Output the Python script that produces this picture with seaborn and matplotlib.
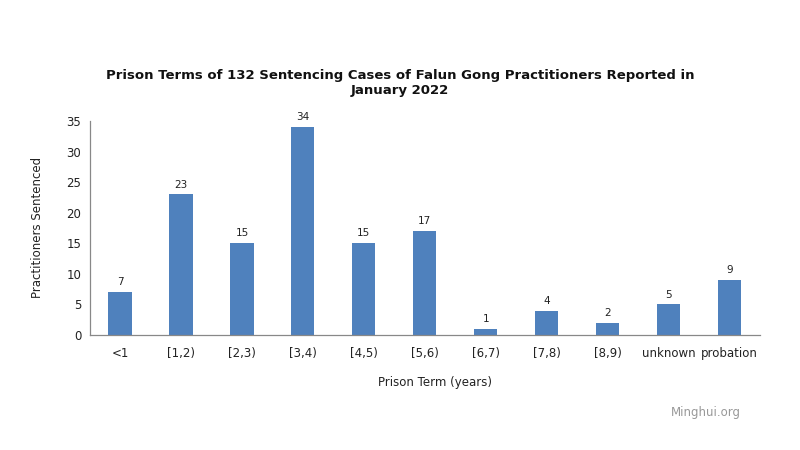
import numpy as np
import pandas as pd
import seaborn as sns
import matplotlib.pyplot as plt

# === Dados ===
terms = ['<1', '[1,2)', '[2,3)', '[3,4)', '[4,5)', '[5,6)', '[6,7)', '[7,8)', '[8,9)', 'unknown', 'probation']
counts = [7, 23, 15, 34, 15, 17, 1, 4, 2, 5, 9]

df = pd.DataFrame({'term': terms, 'count': counts})

sns.set_style('white')
plt.rcParams['font.family'] = ['DejaVu Sans']

fig = plt.figure(figsize=(8, 4.5), dpi=100)
ax = fig.add_axes([0.112, 0.2556, 0.838, 0.4754])

sns.barplot(data=df, x='term', y='count', color='#4F81BD', saturation=1, width=0.38,
            linewidth=0, ax=ax)

for i, v in enumerate(counts):
    ax.text(i, v + 0.8, str(v), ha='center', va='bottom', fontsize=7.5, color='#222222')

ax.set_xlim(-0.5, len(terms) - 0.5)
ax.set_ylim(0, 35)
ax.set_yticks(np.arange(0, 36, 5))
ax.tick_params(axis='y', length=3, width=0.8, color='#888888', labelsize=8.5, labelcolor='#222222', pad=3)
ax.tick_params(axis='x', length=0, labelsize=8.5, labelcolor='#222222', pad=9)

for side in ['top', 'right']:
    ax.spines[side].set_visible(False)
for side in ['left', 'bottom']:
    ax.spines[side].set_color('#888888')
    ax.spines[side].set_linewidth(0.9)

ax.set_xlabel('')
ax.set_ylabel('')
fig.text(0.047, 0.4935, 'Practitioners Sentenced', rotation=90, ha='center', va='center', fontsize=8.5, color='#222222')
fig.text(0.544, 0.149, 'Prison Term (years)', ha='center', va='center', fontsize=8.5, color='#222222')

fig.text(0.5, 0.815, 'Prison Terms of 132 Sentencing Cases of Falun Gong Practitioners Reported in\nJanuary 2022',
         ha='center', va='center', fontsize=9.5, fontweight='bold', color='#111111', linespacing=1.2)

fig.text(0.882, 0.083, 'Minghui.org', ha='center', va='center', fontsize=8.5, color='#999999')

fig.savefig('out.png', dpi=100)
